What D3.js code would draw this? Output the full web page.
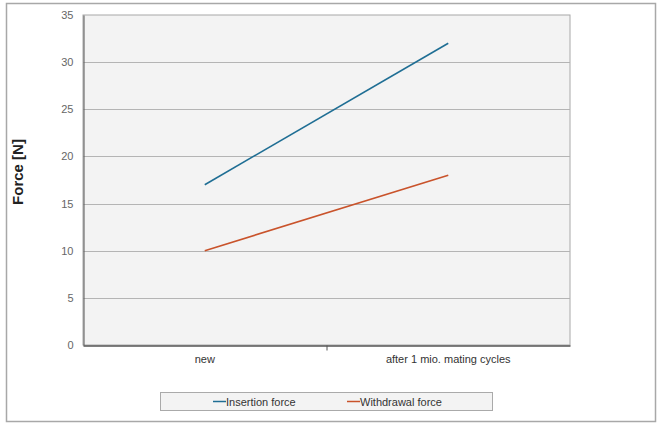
<!DOCTYPE html>
<html>
<head>
<meta charset="utf-8">
<script src="https://cdn.jsdelivr.net/npm/d3@7"></script>
<style>
  body { margin: 0; background: #fff; }
  text { font-family: "Liberation Sans", Arial, sans-serif; }
</style>
</head>
<body>
<script>
// chart data
const categories = ['new', 'after 1 mio. mating cycles']
const seriesNames = ['Insertion force', 'Withdrawal force']
const insertion = [17, 32]
const withdrawal = [10, 18]
const yTicks = [0, 5, 10, 15, 20, 25, 30, 35]
const colors = ['#1f6e94', '#c9532b']

const w = 660
const h = 425
const pLeft = 83, pRight = 570, pTop = 15, pBottom = 345

const svg = d3.select('body').append('svg')
    .attr('width', w)
    .attr('height', h)

// outer frame
svg.append('rect')
    .attr('x', 6.5).attr('y', 3.5)
    .attr('width', 649).attr('height', 418)
    .style('fill', 'white')
    .style('stroke', '#a8a8a8')
    .style('stroke-width', 1.5)

const xScale = d3.scaleBand()
    .domain(categories)
    .range([pLeft, pRight])

const yScale = d3.scaleLinear()
    .domain([0, 35])
    .range([pBottom, pTop])

// plot background
svg.append('rect')
    .attr('x', pLeft).attr('y', pTop)
    .attr('width', pRight - pLeft).attr('height', pBottom - pTop)
    .style('fill', '#f3f3f3')
    .style('stroke', '#a8a8a8')
    .style('stroke-width', 1)

// gridlines
svg.append('g')
    .selectAll('line')
    .data(yTicks.filter(d => d > 0 && d < 35))
    .enter()
    .append('line')
    .attr('x1', pLeft).attr('x2', pRight)
    .attr('y1', d => Math.round(yScale(d)) + 0.5)
    .attr('y2', d => Math.round(yScale(d)) + 0.5)
    .style('stroke', '#b4b4b4')
    .style('stroke-width', 1)

// y axis
const yAxis = d3.axisLeft(yScale).tickValues(yTicks).tickSize(0).tickPadding(10)
const gy = svg.append('g')
    .attr('transform', `translate(${pLeft + 0.5},0)`)
    .call(yAxis)
gy.select('.domain').style('stroke', '#555').style('stroke-width', 1)
gy.selectAll('text').style('fill', '#666').style('font-size', '11px')

// x axis
const xAxis = d3.axisBottom(xScale).tickSize(0).tickPadding(10)
const gx = svg.append('g')
    .attr('transform', `translate(0,${pBottom + 0.5})`)
    .call(xAxis)
gx.select('.domain').style('stroke', '#555').style('stroke-width', 1.5)
gx.selectAll('text').style('fill', '#333').style('font-size', '11px')

// tick between categories
gx.append('line')
    .attr('x1', xScale(categories[1]) + 0.5).attr('x2', xScale(categories[1]) + 0.5)
    .attr('y1', 0).attr('y2', 5)
    .style('stroke', '#555')

// y label
svg.append('text')
    .attr('transform', 'translate(23,172) rotate(-90)')
    .attr('text-anchor', 'middle')
    .style('font-size', '15px')
    .style('font-weight', 'bold')
    .style('fill', '#222')
    .text('Force [N]')

// lines
const line = d3.line()
    .x((d, i) => xScale(categories[i]) + xScale.bandwidth() / 2)
    .y(d => yScale(d))

const series = [insertion, withdrawal]
svg.selectAll('.series')
    .data(series)
    .enter()
    .append('path')
    .attr('class', 'series')
    .attr('d', d => line(d))
    .style('fill', 'none')
    .style('stroke', (d, i) => colors[i])
    .style('stroke-width', 1.6)

// legend
const lg = svg.append('g')
lg.append('rect')
    .attr('x', 160.5).attr('y', 392.5)
    .attr('width', 332).attr('height', 18)
    .style('fill', '#f3f3f3')
    .style('stroke', '#aaa')

const legendX = [213, 347]
seriesNames.forEach((name, i) => {
    lg.append('line')
        .attr('x1', legendX[i]).attr('x2', legendX[i] + 13)
        .attr('y1', 401.5).attr('y2', 401.5)
        .style('stroke', colors[i])
        .style('stroke-width', 1.5)
    lg.append('text')
        .attr('x', legendX[i] + 13)
        .attr('y', 405.5)
        .style('font-size', '11px')
        .style('fill', '#333')
        .text(name)
})
</script>
</body>
</html>
